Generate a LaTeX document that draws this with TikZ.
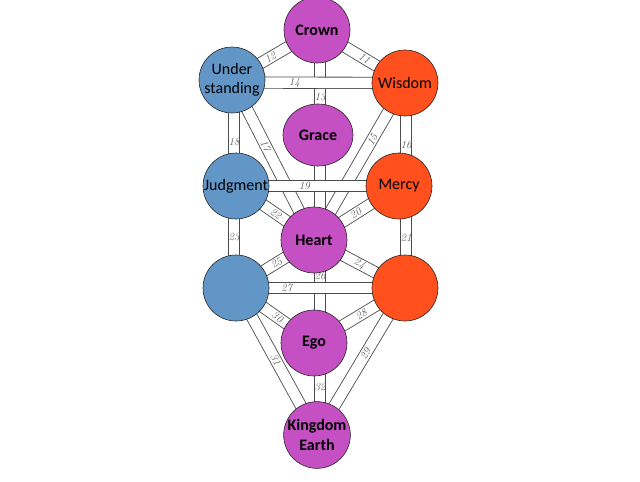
\documentclass[tikz,border=0pt]{standalone}
\usepackage{fontspec}
\newfontfamily\calfont{Carlito}
\usetikzlibrary{shapes.geometric,backgrounds}
\definecolor{sefpurple}{HTML}{C550C4}
\definecolor{sefblue}{HTML}{6296C7}
\definecolor{seforange}{HTML}{FF501E}
\tikzset{
  sef/.style={circle, draw=black!85, line width=0.6pt, minimum size=66pt, inner sep=0pt,
    align=center, text=black, font=\calfont\fontsize{16}{19}\selectfont},
  bsef/.style={sef, font=\calfont\bfseries\fontsize{16}{20}\selectfont},
  pathw/.style={draw=black!70, line width=0.85pt, double=white, double distance=10.5pt},
  num/.style={font=\itshape\fontsize{11}{11}\selectfont, text=black!65, inner sep=0pt},
}
\begin{document}
\begin{tikzpicture}[x=1pt,y=-1pt]
\useasboundingbox (0,0) rectangle (640,482);
% sefirot
\node[bsef, fill=sefpurple] (C) at (317,30) {Crown};
\node[sef, fill=sefblue] (U) at (232,80) {Under\\standing};
\node[sef, fill=seforange] (W) at (405,83) {Wisdom};
\node[bsef, ellipse, fill=sefpurple, minimum width=70pt, minimum height=62pt] (G) at (318,135) {Grace};
\node[sef, fill=sefblue] (J) at (236,186) {Judgment};
\node[sef, fill=seforange] (M) at (399,186) {Mercy};
\node[bsef, fill=sefpurple] (H) at (314,240) {Heart};
\node[sef, fill=sefblue] (L) at (236,288) {};
\node[sef, fill=seforange] (R) at (405,288) {};
\node[bsef, fill=sefpurple] (E) at (314,343) {Ego};
\node[bsef, fill=sefpurple] (K) at (317,435) {Kingdom\\Earth};
\begin{pgfonlayer}{background}
  % diagonal and vertical paths
  \draw[pathw] (C.center) -- (W.center) node[num, sloped, pos=0.54] {11};
  \draw[pathw] (C.center) -- (U.center) node[num, sloped, pos=0.55] {12};
  \draw[pathw] ([xshift=3pt]C.center) -- ([xshift=6pt]H.center) node[num, pos=0.32] {13};
  \draw[pathw] (W.center) -- (H.center) node[num, sloped, pos=0.36] {15};
  \draw[pathw] ([xshift=1pt]W.center) -- ([xshift=7pt]M.center) node[num, pos=0.60] {16};
  \draw[pathw] (U.center) -- (H.center) node[num, sloped, pos=0.41] {17};
  \draw[pathw] ([xshift=2pt]U.center) -- ([xshift=-2pt]J.center) node[num, pos=0.58] {18};
  \draw[pathw] (M.center) -- (H.center) node[num, sloped, pos=0.51] {20};
  \draw[pathw] ([xshift=7pt]M.center) -- ([xshift=1pt]R.center) node[num, pos=0.51] {21};
  \draw[pathw] (J.center) -- (H.center) node[num, sloped, pos=0.51] {22};
  \draw[pathw] ([xshift=-2pt]J.center) -- ([xshift=-2pt]L.center) node[num, pos=0.5] {23};
  \draw[pathw] (H.center) -- (R.center) node[num, sloped, pos=0.50] {24};
  \draw[pathw] (H.center) -- (L.center) node[num, sloped, pos=0.48] {25};
  \draw[pathw] ([xshift=6pt]H.center) -- ([xshift=6pt]E.center) node[num, pos=0.35] {26};
  \draw[pathw] (R.center) -- (E.center) node[num, sloped, pos=0.48] {28};
  \draw[pathw] (R.center) -- (K.center) node[num, sloped, pos=0.45] {29};
  \draw[pathw] (L.center) -- (E.center) node[num, sloped, pos=0.53] {30};
  \draw[pathw] (L.center) -- (K.center) node[num, sloped, pos=0.49] {31};
  \draw[pathw] ([xshift=6pt]E.center) -- ([xshift=3pt]K.center) node[num, pos=0.48] {32};
  % horizontal paths on top
  \draw[pathw] ([yshift=-2.5pt]U.center) -- (W.center) node[num, pos=0.36] {14};
  \draw[pathw] (J.center) -- (M.center) node[num, pos=0.42] {19};
  \draw[pathw] (L.center) -- (R.center) node[num, pos=0.30] {27};
\end{pgfonlayer}
\end{tikzpicture}
\end{document}
